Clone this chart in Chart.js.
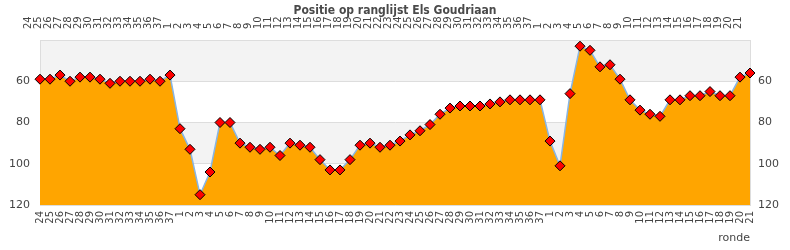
<!DOCTYPE html>
<html>
<head>
<meta charset="utf-8">
<title>Positie op ranglijst Els Goudriaan</title>
<script src="https://cdn.jsdelivr.net/npm/chart.js"></script>
<style>
    html, body { margin: 0; padding: 0; background: #ffffff; }
    #chart-wrap { width: 790px; height: 250px; }
</style>
</head>
<body>
<div id="chart-wrap">
    <canvas id="rankChart" width="790" height="250"></canvas>
</div>
<script>
// Round labels (season 1: 24-37, season 2: 1-37, season 3: 1-21)
const rounds = [
    '24', '25', '26', '27', '28', '29', '30', '31', '32', '33', '34', '35', '36', '37',
    '1', '2', '3', '4', '5', '6', '7', '8', '9', '10', '11', '12', '13', '14', '15', '16',
    '17', '18', '19', '20', '21', '22', '23', '24', '25', '26', '27', '28', '29', '30',
    '31', '32', '33', '34', '35', '36', '37',
    '1', '2', '3', '4', '5', '6', '7', '8', '9', '10', '11', '12', '13', '14', '15', '16',
    '17', '18', '19', '20', '21'
];

// Position on the ranking per round
const positions = [
    59, 59, 57, 60, 58, 58, 59, 61, 60, 60, 60, 59, 60, 57,
    83, 93, 115, 104, 80, 80, 90, 92, 93, 92, 96, 90, 91, 92, 98, 103,
    103, 98, 91, 90, 92, 91, 89, 86, 84, 81, 76, 73, 72, 72,
    72, 71, 70, 69, 69, 69, 69,
    89, 101, 66, 43, 45, 53, 52, 59, 69, 74, 76, 77, 69, 69, 67, 67,
    65, 67, 67, 58, 56
];

// Y axis range and tick labels
const yRange = [40, 120];
const yTickLabels = [60, 80, 100, 120];

const chartTitle = 'Positie op ranglijst Els Goudriaan';
const xAxisTitle = 'ronde';

// Colors
const chartColors = {
    area: '#ffa500',
    line: '#86b5e6',
    point: '#ff0000',
    pointBorder: '#000000',
    band: '#f3f3f3',
    grid: '#dddddd',
    text: '#444444',
    title: '#4a4a4a'
};

const tickFont = { family: 'DejaVu Sans', size: 10 };
const yFont = { family: 'DejaVu Sans', size: 11 };

// Alternating grey/white bands behind the plot
const bandPlugin = {
    id: 'bands',
    beforeDraw(chart) {
        const { ctx, chartArea } = chart;
        const y = chart.scales.y;
        ctx.save();
        ctx.fillStyle = '#ffffff';
        ctx.fillRect(chartArea.left, chartArea.top, chartArea.right - chartArea.left, chartArea.bottom - chartArea.top);
        ctx.fillStyle = chartColors.band;
        for (let v = yRange[0]; v < yRange[1]; v += 40) {
            const top = y.getPixelForValue(v);
            const bottom = y.getPixelForValue(v + 20);
            ctx.fillRect(chartArea.left, top, chartArea.right - chartArea.left, bottom - top);
        }
        ctx.restore();
    }
};

// Title is drawn over the top tick labels, like the original
const titlePlugin = {
    id: 'overlayTitle',
    afterDraw(chart) {
        const { ctx } = chart;
        ctx.save();
        ctx.font = 'bold 12px "DejaVu Sans Condensed", "DejaVu Sans"';
        ctx.fillStyle = chartColors.title;
        ctx.textAlign = 'center';
        ctx.textBaseline = 'middle';
        ctx.fillText(chartTitle, 395, 11);
        ctx.restore();
    }
};

function fixedSize(size) {
    return function(scale) {
        if (scale.isHorizontal()) scale.height = size;
        else scale.width = size;
    };
}

function yTickCallback(value) {
    return yTickLabels.includes(value) ? value : '';
}

function renderChart() {
    const ctx = document.getElementById('rankChart').getContext('2d');
    new Chart(ctx, {
        type: 'line',
        data: {
            labels: rounds,
            datasets: [{
                data: positions,
                borderColor: chartColors.line,
                borderWidth: 1.5,
                backgroundColor: chartColors.area,
                fill: { value: yRange[1] },
                tension: 0,
                pointStyle: 'rectRot',
                pointRadius: 5,
                pointBackgroundColor: chartColors.point,
                pointBorderColor: chartColors.pointBorder,
                pointBorderWidth: 1,
                xAxisID: 'x',
                yAxisID: 'y'
            }]
        },
        options: {
            responsive: false,
            animation: false,
            layout: { padding: 0 },
            plugins: {
                legend: { display: false },
                title: { display: false },
                tooltip: { enabled: false }
            },
            scales: {
                x: {
                    position: 'bottom',
                    offset: false,
                    grid: { display: false, drawTicks: false },
                    border: { display: true, color: chartColors.grid },
                    ticks: {
                        autoSkip: false, minRotation: 90, maxRotation: 90,
                        padding: 6, color: chartColors.text, font: tickFont
                    },
                    title: {
                        display: true, text: xAxisTitle, align: 'end',
                        color: chartColors.text, font: yFont,
                        padding: { top: 0, bottom: 5 }
                    },
                    afterFit: fixedSize(45)
                },
                x2: {
                    type: 'category',
                    labels: rounds,
                    position: 'top',
                    offset: false,
                    grid: { display: false, drawTicks: false },
                    border: { display: true, color: chartColors.grid },
                    ticks: {
                        autoSkip: false, minRotation: 90, maxRotation: 90,
                        padding: 11, color: chartColors.text, font: tickFont
                    },
                    afterFit: fixedSize(40)
                },
                y: {
                    position: 'left',
                    reverse: true,
                    min: yRange[0],
                    max: yRange[1],
                    grid: { color: chartColors.grid, drawTicks: false },
                    border: { display: true, color: chartColors.grid },
                    ticks: {
                        stepSize: 20, padding: 10, color: chartColors.text,
                        font: yFont, callback: yTickCallback
                    },
                    afterFit: fixedSize(40)
                },
                y2: {
                    position: 'right',
                    reverse: true,
                    min: yRange[0],
                    max: yRange[1],
                    grid: { display: false, drawTicks: false },
                    border: { display: true, color: chartColors.grid },
                    ticks: {
                        stepSize: 20, padding: 8, color: chartColors.text,
                        font: yFont, callback: yTickCallback
                    },
                    afterFit: fixedSize(40)
                }
            }
        },
        plugins: [bandPlugin, titlePlugin]
    });
}

document.addEventListener('DOMContentLoaded', renderChart);
</script>
</body>
</html>
